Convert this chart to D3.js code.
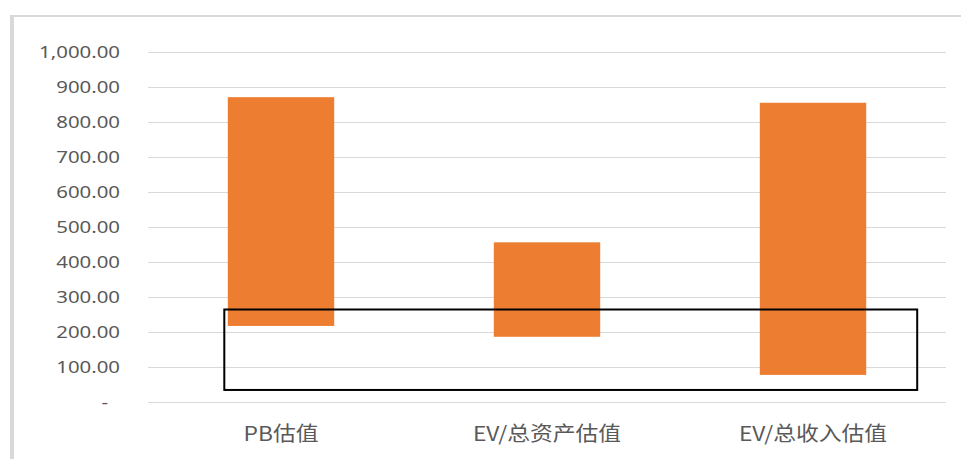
<!DOCTYPE html>
<html>
<head>
<meta charset="utf-8">
<script src="https://cdn.jsdelivr.net/npm/d3@7"></script>
<style>
  html, body { margin: 0; padding: 0; background: #fff; }
  svg { display: block; }
  text { font-family: "Noto Sans", "Noto Sans CJK SC", sans-serif; fill: #595959; }
  .cat { font-family: "Noto Sans CJK SC", "Noto Sans", sans-serif; }
</style>
</head>
<body>
<svg id="chart" width="961" height="459"></svg>
<script>
// Valuation ranges (low / high) per method
const categories = ["PB估值", "EV/总资产估值", "EV/总收入估值"];
const lowValues  = [216, 185, 76];
const highValues = [870, 455, 854];
const tickValues = [0, 100, 200, 300, 400, 500, 600, 700, 800, 900, 1000];
const tickLabels = ["-", "100.00", "200.00", "300.00", "400.00", "500.00",
                    "600.00", "700.00", "800.00", "900.00", "1,000.00"];
// Highlighted value band
const highlightRange = [33, 263];

const W = 961, H = 459;
const svg = d3.select("#chart");

const plot = { left: 148, right: 946, top: 51.7, bottom: 401.5 };

const x = d3.scaleBand()
  .domain(categories)
  .range([plot.left, plot.right])
  .paddingInner(0.6)
  .paddingOuter(0.3);

const y = d3.scaleLinear()
  .domain([0, 1000])
  .range([plot.bottom, plot.top]);

// Frame edges
svg.append("rect").attr("x", 10).attr("y", 15).attr("width", W - 10).attr("height", 2).attr("fill", "#d9d9d9");
svg.append("rect").attr("x", 10).attr("y", 15).attr("width", 4).attr("height", H - 15).attr("fill", "#d9d9d9");

// Gridlines
svg.append("g")
  .selectAll("line")
  .data(tickValues)
  .join("line")
  .attr("x1", plot.left).attr("x2", plot.right)
  .attr("y1", d => Math.round(y(d)) + 0.5)
  .attr("y2", d => Math.round(y(d)) + 0.5)
  .attr("stroke", "#d9d9d9")
  .attr("stroke-width", 1);

// Y axis labels
const yAxis = d3.axisLeft(y)
  .tickValues(tickValues)
  .tickFormat((d, i) => tickLabels[i])
  .tickSize(0);

const ya = svg.append("g").attr("transform", "translate(120,0)").call(yAxis);
ya.select(".domain").remove();
ya.selectAll(".tick text")
  .attr("x", 0)
  .attr("dy", "0.36em")
  .attr("font-size", 17)
  .attr("fill", "#666666")
  .attr("font-family", "Noto Sans, sans-serif")
  .attr("transform", "scale(1.2,1)")
  .attr("text-anchor", "end")
  .each(function(d) {
    if (d === 0) d3.select(this).attr("x", -10);
  });

// Floating range bars
svg.append("g")
  .selectAll("rect")
  .data(categories)
  .join("rect")
  .attr("x", d => x(d))
  .attr("width", x.bandwidth())
  .attr("y", (d, i) => y(highValues[i]))
  .attr("height", (d, i) => y(lowValues[i]) - y(highValues[i]))
  .attr("fill", "#ED7D31");

// Category labels
const xAxis = d3.axisBottom(x).tickSize(0);
const xa = svg.append("g").attr("transform", `translate(0,${plot.bottom})`).call(xAxis);
xa.select(".domain").remove();
xa.selectAll(".tick text")
  .attr("class", "cat")
  .attr("y", 0)
  .attr("dy", 39.5)
  .attr("font-size", 20)
  .attr("fill", "#666666")
  .attr("font-family", "Noto Sans CJK SC, sans-serif")
  .attr("transform", "scale(1.14,1)")
  .attr("x", 0);

// Highlight box around the lower value band
svg.append("rect")
  .attr("x", x(categories[0]) - 3.5)
  .attr("y", y(highlightRange[1]))
  .attr("width", (x(categories[2]) + x.bandwidth() + 51) - (x(categories[0]) - 3.5))
  .attr("height", y(highlightRange[0]) - y(highlightRange[1]))
  .attr("fill", "none")
  .attr("stroke", "#000")
  .attr("stroke-width", 2);
</script>
</body>
</html>
